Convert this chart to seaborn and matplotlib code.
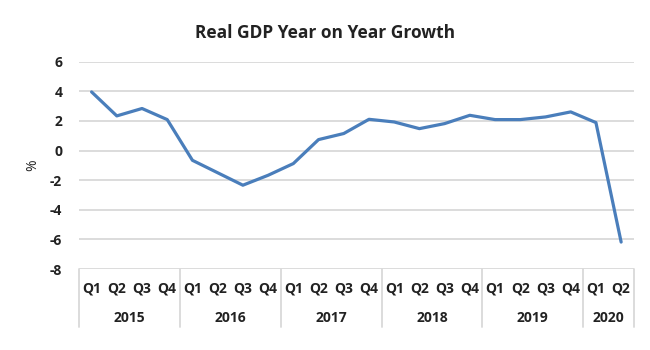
import matplotlib
matplotlib.use("Agg")
import matplotlib.pyplot as plt
import matplotlib.transforms as mtransforms
import seaborn as sns
import pandas as pd

quarters = ["Q1", "Q2", "Q3", "Q4"] * 5 + ["Q1", "Q2"]
years = ["2015", "2016", "2017", "2018", "2019", "2020"]
year_counts = [4, 4, 4, 4, 4, 2]
growth = [3.96, 2.34, 2.84, 2.09,
          -0.66, -1.5, -2.34, -1.67,
          -0.88, 0.74, 1.15, 2.11,
          1.93, 1.48, 1.82, 2.38,
          2.09, 2.09, 2.27, 2.61,
          1.89, -6.18]
yticks = [-8, -6, -4, -2, 0, 2, 4, 6]

sns.set_theme(style="white")
plt.rcParams['font.family'] = ['Open Sans', 'DejaVu Sans']

df = pd.DataFrame({"idx": list(range(len(growth))), "growth": growth})

fig = plt.figure(figsize=(6.5, 3.5), dpi=100)
ax = fig.add_axes([0.1215, 0.2314, 0.8535, 0.5923])

sns.lineplot(data=df, x="idx", y="growth", ax=ax, color="#4A7EBB", linewidth=2.3, zorder=3)

ax.set_xlim(-0.5, len(growth) - 0.5)
ax.set_ylim(-8, 6)
ax.set_yticks(yticks)
ax.set_yticklabels([str(t) for t in yticks], fontweight="bold", fontsize=10, color="#222222")
for t in yticks:
    ax.axhline(t, color="#D9D9D9", linewidth=1.3, zorder=1)

ax.set_xticks(range(len(growth)))
ax.set_xticklabels(quarters, fontweight="bold", fontsize=10, color="#222222")
ax.tick_params(axis="x", length=0, pad=9)
ax.tick_params(axis="y", length=0, pad=12)
ax.set_xlabel("")
ax.set_ylabel("%", fontsize=10, color="#222222", labelpad=7)

for s in ax.spines.values():
    s.set_visible(False)

trans = mtransforms.blended_transform_factory(ax.transData, ax.transAxes)
off = mtransforms.ScaledTranslation(0, -48.7 / 100, fig.dpi_scale_trans)
sep_len = 57.7 / (0.5923 * 350)
start = -0.5
bounds = [start]
for y, n in zip(years, year_counts):
    center = start + n / 2
    ax.text(center, 0, y, transform=trans + off, ha="center", va="center",
            fontweight="bold", fontsize=10, color="#222222")
    start += n
    bounds.append(start)
for b in bounds:
    ax.plot([b, b], [0, -sep_len], transform=trans, color="#D9D9D9",
            linewidth=1.3, clip_on=False)

fig.text(0.5, 1 - 33 / 350, "Real GDP Year on Year Growth", ha="center", va="center",
         fontweight="bold", fontsize=12.5, color="#222222")

fig.savefig("out.png", dpi=100)
